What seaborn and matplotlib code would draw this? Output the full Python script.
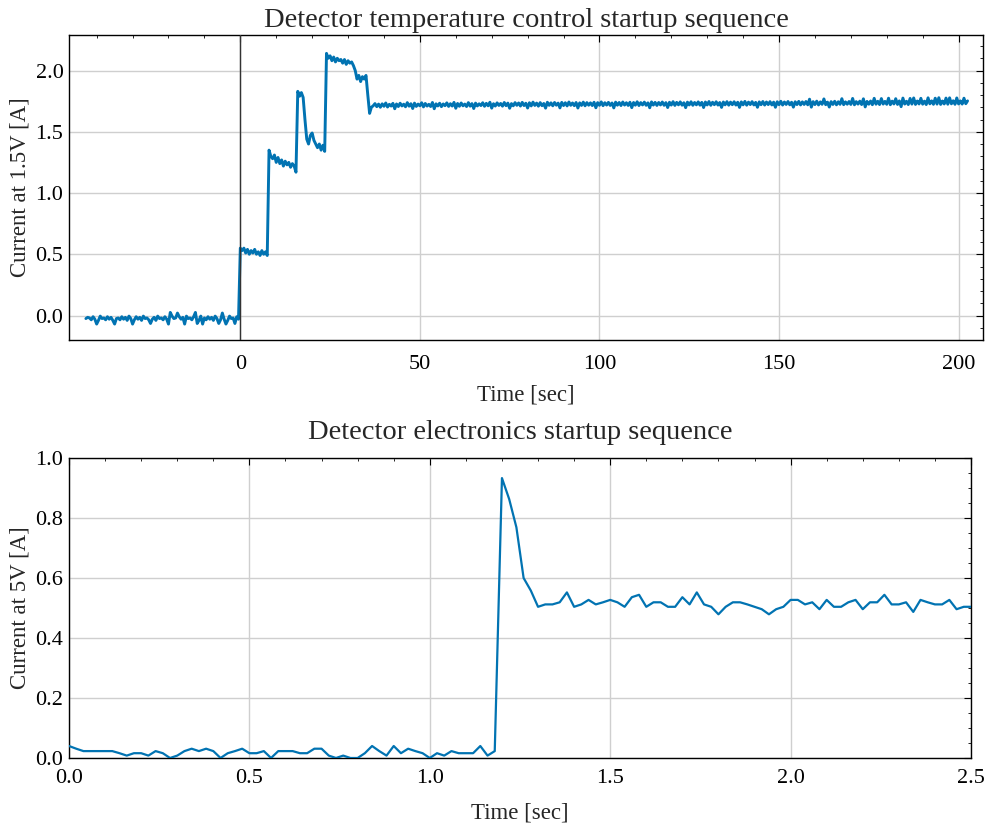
import numpy as np
import pandas as pd
import seaborn as sns
import matplotlib
matplotlib.use("Agg")
import matplotlib.pyplot as plt
from matplotlib.ticker import MultipleLocator

# ---------------- data: temperature-control startup (1.5 V rail) ----------------
sample_dt_top = 0.5          # s between samples
baseline_start = -43.0
baseline_current = [
    -0.025, -0.015,
    -0.02, -0.035, -0.01, -0.03, -0.07, -0.04, -0.005, -0.025,
    -0.02, -0.035, -0.01, -0.03, -0.015, -0.04, -0.07, -0.025,
    -0.02, -0.035, -0.01, -0.03, -0.015, -0.04, -0.005, -0.025,
    -0.07, -0.035, -0.01, -0.03, -0.015, -0.04, -0.005, -0.025,
    -0.02, -0.035, -0.065, -0.03, -0.015, -0.04, -0.005, -0.025,
    -0.02, -0.035, -0.01, -0.03, -0.07, 0.025, -0.005, -0.025,
    -0.02, 0.02, -0.01, -0.03, -0.015, -0.07, -0.005, -0.025,
    -0.02, -0.035, -0.01, 0.025, -0.065, -0.04, -0.005, -0.07,
    -0.02, -0.035, -0.01, -0.03, -0.015, -0.04, -0.005, -0.025,
    -0.065, -0.035, 0.02, -0.03, -0.07, -0.04, -0.005, -0.025,
    -0.02, -0.065, -0.01, -0.03,
]
stages_start = 0.0
stages_current = [
    0.55, 0.53, 0.55, 0.51, 0.54, 0.50, 0.53, 0.51, 0.54, 0.50, 0.52, 0.49, 0.53, 0.50, 0.52, 0.49,
    1.35, 1.30, 1.28, 1.31, 1.25, 1.29, 1.24, 1.27, 1.22, 1.26, 1.23, 1.25, 1.21, 1.24, 1.22, 1.17,
    1.83, 1.79, 1.82, 1.78,
    1.60, 1.44, 1.40, 1.47, 1.49, 1.43, 1.40, 1.37, 1.40, 1.35, 1.39, 1.34,
    2.14, 2.10, 2.12, 2.08, 2.11, 2.07, 2.10, 2.08, 2.09, 2.06, 2.09, 2.05, 2.08, 2.06, 2.07,
    2.04, 2.00, 1.93, 1.96, 1.91, 1.95, 1.93, 1.96, 1.80, 1.65, 1.70,
]
plateau_start = 37.0
plateau_current_mA = [
    1712, 1730, 1705, 1726, 1700, 1728, 1708, 1735, 1702, 1724, 1710, 1732, 1688, 1727, 1706, 1733, 1711, 1725, 1704, 1738,
    1709, 1729, 1690, 1734, 1707, 1726, 1712, 1737, 1703, 1731, 1710, 1724, 1706, 1739, 1688, 1728, 1711, 1733, 1705, 1727,
    1713, 1736, 1707, 1729, 1710, 1740, 1692, 1731, 1708, 1735, 1712, 1726, 1706, 1738, 1709, 1730, 1690, 1734, 1711, 1728,
    1714, 1737, 1708, 1732, 1712, 1741, 1693, 1729, 1710, 1736, 1715, 1731, 1709, 1739, 1713, 1734, 1692, 1730, 1712, 1738,
    1716, 1735, 1710, 1740, 1714, 1733, 1694, 1737, 1711, 1742, 1715, 1734, 1709, 1738, 1713, 1731, 1693, 1741, 1716, 1736,
    1712, 1739, 1717, 1734, 1695, 1740, 1714, 1737, 1711, 1743, 1716, 1735, 1713, 1739, 1694, 1736, 1715, 1742, 1712, 1738,
    1717, 1736, 1714, 1741, 1696, 1738, 1716, 1744, 1713, 1737, 1718, 1740, 1715, 1735, 1695, 1742, 1717, 1739, 1714, 1743,
    1718, 1737, 1715, 1741, 1697, 1739, 1717, 1745, 1714, 1738, 1719, 1742, 1716, 1736, 1696, 1744, 1718, 1740, 1715, 1739,
    1719, 1743, 1716, 1738, 1698, 1741, 1718, 1746, 1715, 1740, 1720, 1744, 1717, 1737, 1697, 1742, 1719, 1745, 1716, 1739,
    1720, 1744, 1717, 1740, 1698, 1743, 1719, 1747, 1716, 1741, 1721, 1745, 1718, 1739, 1699, 1743, 1720, 1746, 1717, 1742,
    1721, 1745, 1718, 1741, 1699, 1744, 1720, 1748, 1717, 1742, 1722, 1746, 1719, 1740, 1700, 1744, 1721, 1747, 1718, 1743,
    1722, 1746, 1719, 1742, 1700, 1745, 1721, 1749, 1718, 1743, 1723, 1747, 1720, 1741, 1701, 1745, 1722, 1748, 1719, 1744,
    1723, 1747, 1720, 1766, 1701, 1746, 1722, 1750, 1719, 1744, 1724, 1768, 1721, 1742, 1702, 1746, 1723, 1749, 1720, 1745,
    1724, 1770, 1721, 1744, 1725, 1747, 1723, 1772, 1720, 1746, 1726, 1750, 1722, 1769, 1703, 1748, 1725, 1751, 1721, 1773,
    1725, 1749, 1722, 1771, 1726, 1748, 1724, 1774, 1721, 1750, 1727, 1770, 1723, 1752, 1705, 1775, 1726, 1749, 1722, 1772,
    1726, 1776, 1723, 1751, 1727, 1773, 1725, 1750, 1722, 1777, 1728, 1752, 1724, 1774, 1726, 1778, 1723, 1751, 1727, 1775,
    1725, 1777, 1728, 1753, 1724, 1776, 1727, 1752, 1726, 1774, 1729, 1752,
]

# ---------------- data: electronics startup (5 V rail) ----------------
sample_dt_bottom = 0.02
current_5v = [
    0.040, 0.031, 0.023, 0.023, 0.023, 0.023, 0.023, 0.016, 0.008, 0.016,
    0.016, 0.008, 0.023, 0.016, 0.000, 0.008, 0.023, 0.031, 0.023, 0.031,
    0.023, 0.000, 0.016, 0.023, 0.031, 0.016, 0.016, 0.023, 0.000, 0.023,
    0.023, 0.023, 0.016, 0.016, 0.031, 0.031, 0.008, 0.000, 0.008, 0.000,
    0.000, 0.016, 0.040, 0.023, 0.008, 0.040, 0.016, 0.031, 0.023, 0.016,
    0.000, 0.016, 0.008, 0.023, 0.016, 0.016, 0.016, 0.040, 0.008, 0.023,
    0.933, 0.863, 0.769, 0.600, 0.558, 0.504, 0.512, 0.512, 0.519, 0.552,
    0.504, 0.512, 0.527, 0.512, 0.519, 0.527, 0.519, 0.504, 0.536, 0.544,
    0.504, 0.519, 0.519, 0.504, 0.504, 0.536, 0.512, 0.552, 0.512, 0.504,
    0.479, 0.504, 0.519, 0.519, 0.512, 0.504, 0.496, 0.479, 0.496, 0.504,
    0.527, 0.527, 0.512, 0.519, 0.496, 0.527, 0.504, 0.504, 0.519, 0.527,
    0.496, 0.519, 0.519, 0.544, 0.512, 0.512, 0.519, 0.487, 0.527, 0.519,
    0.512, 0.512, 0.527, 0.496, 0.504, 0.504,
]

# ---------------- build tables ----------------
def segment(start, values, dt):
    t = start + dt * np.arange(len(values))
    return pd.DataFrame({"t": t, "i": np.asarray(values, dtype=float)})

top_df = pd.concat([
    segment(baseline_start, baseline_current, sample_dt_top),
    segment(stages_start, stages_current, sample_dt_top),
    segment(plateau_start, np.asarray(plateau_current_mA) / 1000.0, sample_dt_top),
], ignore_index=True)
bot_df = segment(0.0, current_5v, sample_dt_bottom)

# ---------------- style ----------------
sns.set_theme(style="white")
plt.rcParams.update({
    "font.family": ["Liberation Serif", "DejaVu Serif"],
    "mathtext.fontset": "stix",
    "xtick.direction": "in", "ytick.direction": "in",
    "xtick.top": True, "ytick.right": True,
    "xtick.minor.visible": True, "ytick.minor.visible": True,
    "xtick.major.size": 5, "ytick.major.size": 5,
    "xtick.minor.size": 2.5, "ytick.minor.size": 2.5,
    "xtick.major.width": 0.8, "ytick.major.width": 0.8,
    "xtick.minor.width": 0.6, "ytick.minor.width": 0.6,
    "xtick.color": "black", "ytick.color": "black",
    "axes.edgecolor": "black", "axes.linewidth": 1.0,
    "xtick.labelsize": 16, "ytick.labelsize": 16,
    "axes.labelsize": 16.5, "axes.titlesize": 20.5,
})
line_color = "#0173B2"

fig = plt.figure(figsize=(9.87, 8.25), dpi=100)
ax1 = fig.add_axes([69 / 987, 1 - 340 / 825, 914 / 987, 305 / 825])
ax2 = fig.add_axes([69 / 987, 1 - 758 / 825, 902 / 987, 300 / 825])

# top panel
ax1.grid(True, which="major", color="#cfcfcf", linewidth=1.0)
sns.lineplot(data=top_df, x="t", y="i", ax=ax1, color=line_color,
             linewidth=2.1, estimator=None, zorder=3)
ax1.axvline(0, color="#333333", linewidth=1.0, zorder=4)
ax1.set_xlim(-47.7, 206.8)
ax1.set_ylim(-0.2, 2.29)
ax1.xaxis.set_major_locator(MultipleLocator(50))
ax1.xaxis.set_minor_locator(MultipleLocator(10))
ax1.yaxis.set_major_locator(MultipleLocator(0.5))
ax1.yaxis.set_minor_locator(MultipleLocator(0.1))
ax1.tick_params(axis="x", which="both", pad=11)
ax1.set_xlabel("Time [sec]", labelpad=7)
ax1.set_ylabel("Current at 1.5V [A]")
ax1.set_title("Detector temperature control startup sequence", pad=6)

# bottom panel
ax2.grid(True, which="major", color="#cfcfcf", linewidth=1.0)
sns.lineplot(data=bot_df, x="t", y="i", ax=ax2, color=line_color,
             linewidth=1.6, estimator=None, zorder=3)
ax2.set_xlim(0, 2.5)
ax2.set_ylim(0, 1.0)
ax2.xaxis.set_major_locator(MultipleLocator(0.5))
ax2.xaxis.set_minor_locator(MultipleLocator(0.1))
ax2.yaxis.set_major_locator(MultipleLocator(0.2))
ax2.yaxis.set_minor_locator(MultipleLocator(0.05))
ax2.tick_params(axis="x", which="both", pad=8)
ax2.set_xlabel("Time [sec]", labelpad=10)
ax2.set_ylabel("Current at 5V [A]")
ax2.set_title("Detector electronics startup sequence", pad=14)

for ax in (ax1, ax2):
    ax.tick_params(axis="y", which="both", pad=4)
    for s in ax.spines.values():
        s.set_visible(True)
        s.set_color("black")

fig.savefig("out.png", dpi=100)
